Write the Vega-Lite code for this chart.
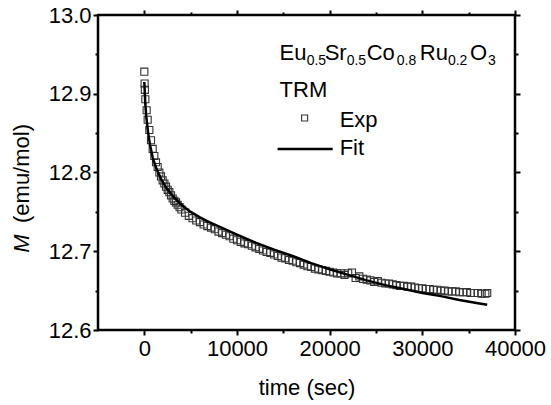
{
  "$schema": "https://vega.github.io/schema/vega-lite/v6.json",
  "width": 417,
  "height": 315,
  "autosize": "none",
  "padding": {"left": 98, "top": 15, "right": 36, "bottom": 75},
  "background": "white",
  "config": {
    "font": "Liberation Sans",
    "view": {"stroke": "black", "strokeWidth": 2.5},
    "axis": {
      "domain": false,
      "grid": false,
      "labelFlush": false,
      "labelOverlap": false,
      "labelFont": "Liberation Sans",
      "labelFontSize": 22,
      "labelColor": "black",
      "titleFont": "Liberation Sans",
      "titleFontSize": 22,
      "titleFontWeight": "normal",
      "titleColor": "black"
    }
  },
  "datasets": {
    "exp": [
      {"t": 0, "m": 12.928}, {"t": 30, "m": 12.913}, {"t": 60, "m": 12.905}, {"t": 110, "m": 12.893},
      {"t": 250, "m": 12.879}, {"t": 360, "m": 12.867}, {"t": 540, "m": 12.854}, {"t": 720, "m": 12.841},
      {"t": 900, "m": 12.830}, {"t": 1080, "m": 12.821}, {"t": 1260, "m": 12.813}, {"t": 1440, "m": 12.807},
      {"t": 1620, "m": 12.800}, {"t": 1800, "m": 12.795}, {"t": 1980, "m": 12.790}, {"t": 2160, "m": 12.786},
      {"t": 2340, "m": 12.782}, {"t": 2520, "m": 12.778}, {"t": 2700, "m": 12.775}, {"t": 2880, "m": 12.771},
      {"t": 3060, "m": 12.767}, {"t": 3240, "m": 12.764}, {"t": 3420, "m": 12.762}, {"t": 3600, "m": 12.759},
      {"t": 3800, "m": 12.756}, {"t": 4000, "m": 12.753}, {"t": 4400, "m": 12.749}, {"t": 4800, "m": 12.745},
      {"t": 5200, "m": 12.742}, {"t": 5600, "m": 12.739}, {"t": 6000, "m": 12.737}, {"t": 6400, "m": 12.734},
      {"t": 6800, "m": 12.732}, {"t": 7200, "m": 12.730}, {"t": 7600, "m": 12.728}, {"t": 8000, "m": 12.725},
      {"t": 8400, "m": 12.723}, {"t": 8800, "m": 12.721}, {"t": 9200, "m": 12.719}, {"t": 9600, "m": 12.716},
      {"t": 10000, "m": 12.714}, {"t": 10400, "m": 12.712}, {"t": 10800, "m": 12.710}, {"t": 11200, "m": 12.709},
      {"t": 11600, "m": 12.707}, {"t": 12000, "m": 12.705}, {"t": 12400, "m": 12.703}, {"t": 12800, "m": 12.701},
      {"t": 13200, "m": 12.699}, {"t": 13600, "m": 12.698}, {"t": 14000, "m": 12.696}, {"t": 14400, "m": 12.694},
      {"t": 14800, "m": 12.692}, {"t": 15200, "m": 12.691}, {"t": 15600, "m": 12.689}, {"t": 16000, "m": 12.688},
      {"t": 16400, "m": 12.686}, {"t": 16800, "m": 12.685}, {"t": 17200, "m": 12.683}, {"t": 17600, "m": 12.681},
      {"t": 18000, "m": 12.680}, {"t": 18400, "m": 12.678}, {"t": 18800, "m": 12.677}, {"t": 19200, "m": 12.676},
      {"t": 19600, "m": 12.675}, {"t": 20000, "m": 12.674}, {"t": 20400, "m": 12.673}, {"t": 20800, "m": 12.672},
      {"t": 21200, "m": 12.672}, {"t": 21600, "m": 12.670}, {"t": 22000, "m": 12.672}, {"t": 22400, "m": 12.673},
      {"t": 22800, "m": 12.666}, {"t": 23200, "m": 12.668}, {"t": 23600, "m": 12.665}, {"t": 24000, "m": 12.664},
      {"t": 24400, "m": 12.663}, {"t": 24800, "m": 12.661}, {"t": 25200, "m": 12.662}, {"t": 25600, "m": 12.660},
      {"t": 26000, "m": 12.659}, {"t": 26400, "m": 12.659}, {"t": 26800, "m": 12.658}, {"t": 27200, "m": 12.657},
      {"t": 27600, "m": 12.656}, {"t": 28000, "m": 12.656}, {"t": 28400, "m": 12.655}, {"t": 28800, "m": 12.655},
      {"t": 29200, "m": 12.654}, {"t": 29600, "m": 12.653}, {"t": 30000, "m": 12.653}, {"t": 30400, "m": 12.652},
      {"t": 30800, "m": 12.652}, {"t": 31200, "m": 12.651}, {"t": 31600, "m": 12.651}, {"t": 32000, "m": 12.650},
      {"t": 32400, "m": 12.650}, {"t": 32800, "m": 12.649}, {"t": 33200, "m": 12.649}, {"t": 33600, "m": 12.649},
      {"t": 34000, "m": 12.648}, {"t": 34400, "m": 12.648}, {"t": 34800, "m": 12.648}, {"t": 35200, "m": 12.647},
      {"t": 35600, "m": 12.647}, {"t": 36000, "m": 12.647}, {"t": 36400, "m": 12.646}, {"t": 36800, "m": 12.646},
      {"t": 37000, "m": 12.647}
    ],
    "fit": [
      {"t": 0, "m": 12.915}, {"t": 100, "m": 12.888}, {"t": 200, "m": 12.872}, {"t": 400, "m": 12.851},
      {"t": 600, "m": 12.836}, {"t": 900, "m": 12.819}, {"t": 1300, "m": 12.805}, {"t": 1800, "m": 12.792},
      {"t": 2400, "m": 12.780}, {"t": 3000, "m": 12.771}, {"t": 4000, "m": 12.759}, {"t": 5000, "m": 12.750},
      {"t": 6000, "m": 12.743}, {"t": 7000, "m": 12.737}, {"t": 8500, "m": 12.729}, {"t": 10000, "m": 12.721},
      {"t": 12000, "m": 12.711}, {"t": 14000, "m": 12.702}, {"t": 16000, "m": 12.694}, {"t": 18000, "m": 12.685},
      {"t": 20000, "m": 12.677}, {"t": 22000, "m": 12.670}, {"t": 24000, "m": 12.663}, {"t": 26000, "m": 12.657},
      {"t": 28000, "m": 12.652}, {"t": 30000, "m": 12.647}, {"t": 32000, "m": 12.643}, {"t": 34000, "m": 12.638},
      {"t": 36000, "m": 12.634}, {"t": 37000, "m": 12.632}
    ],
    "bigText": [
      {"label": "Eu", "t": 14595, "m": 12.9429},
      {"label": "Sr", "t": 19459, "m": 12.9429},
      {"label": "Co", "t": 24000, "m": 12.9429},
      {"label": "Ru", "t": 29730, "m": 12.9429},
      {"label": "O", "t": 35135, "m": 12.9429},
      {"label": "TRM", "t": 14595, "m": 12.8959},
      {"label": "Exp", "t": 21081, "m": 12.8582},
      {"label": "Fit", "t": 21081, "m": 12.8222}
    ],
    "subText": [
      {"label": "0.5", "t": 17514, "m": 12.9365},
      {"label": "0.5", "t": 21838, "m": 12.9365},
      {"label": "0.8", "t": 27243, "m": 12.9365},
      {"label": "0.2", "t": 32757, "m": 12.9365},
      {"label": "3", "t": 37081, "m": 12.9365}
    ]
  },
  "layer": [
    {
      "data": {"name": "exp"},
      "mark": {"type": "point", "shape": "square", "filled": false, "stroke": "#333333", "strokeWidth": 1.1, "size": 50, "opacity": 1},
      "encoding": {
        "x": {
          "field": "t", "type": "quantitative",
          "scale": {"domain": [-5000, 40000], "nice": false, "zero": false},
          "axis": {"orient": "bottom", "values": [0, 10000, 20000, 30000, 40000], "format": "d", "ticks": false, "labelPadding": 25, "labelBaseline": "alphabetic", "title": "time (sec)", "titleBaseline": "alphabetic", "titleY": 64}
        },
        "y": {
          "field": "m", "type": "quantitative",
          "scale": {"domain": [12.6, 13.0], "nice": false, "zero": false},
          "axis": {"orient": "left", "values": [12.6, 12.7, 12.8, 12.9, 13.0], "format": ".1f", "ticks": false, "labelPadding": 7, "title": "(emu/mol)", "titleX": -70, "titleY": 158, "titleAlign": "center", "titleBaseline": "alphabetic", "titleAngle": 270}
        }
      }
    },
    {
      "data": {"name": "fit"},
      "mark": {"type": "line", "color": "black", "strokeWidth": 2.5},
      "encoding": {
        "x": {"field": "t", "type": "quantitative", "axis": {"orient": "top", "values": [0, 10000, 20000, 30000, 40000], "labels": false, "ticks": true, "tickColor": "black", "tickWidth": 2, "tickSize": 5, "title": null}},
        "y": {"field": "m", "type": "quantitative", "axis": {"orient": "right", "values": [12.6, 12.7, 12.8, 12.9, 13.0], "labels": false, "ticks": true, "tickColor": "black", "tickWidth": 2, "tickSize": 5, "title": null}}
      }
    },
    {
      "data": {"values": [{}]},
      "mark": {"type": "point", "shape": "square", "filled": false, "stroke": "#333333", "strokeWidth": 1.1, "size": 36, "opacity": 1},
      "encoding": {
        "x": {"datum": 17297, "type": "quantitative", "axis": {"orient": "bottom", "values": [5000, 15000, 25000, 35000], "labels": false, "ticks": true, "tickColor": "black", "tickWidth": 2, "tickSize": 3, "title": null}},
        "y": {"datum": 12.8692, "type": "quantitative", "axis": {"orient": "left", "values": [12.65, 12.75, 12.85, 12.95], "labels": false, "ticks": true, "tickColor": "black", "tickWidth": 2, "tickSize": 3, "title": null}}
      }
    },
    {
      "data": {"values": [{}]},
      "mark": {"type": "rule", "color": "black", "strokeWidth": 2.5},
      "encoding": {
        "x": {"datum": 14378, "type": "quantitative", "axis": {"orient": "top", "values": [5000, 15000, 25000, 35000], "labels": false, "ticks": true, "tickColor": "black", "tickWidth": 2, "tickSize": 3, "title": null}},
        "x2": {"datum": 20324},
        "y": {"datum": 12.8298, "type": "quantitative", "axis": {"orient": "right", "values": [12.65, 12.75, 12.85, 12.95], "labels": false, "ticks": true, "tickColor": "black", "tickWidth": 2, "tickSize": 3, "title": null}}
      }
    },
    {
      "data": {"name": "bigText"},
      "mark": {"type": "text", "align": "left", "baseline": "alphabetic", "fontSize": 22, "font": "Liberation Sans", "color": "black"},
      "encoding": {
        "x": {"field": "t", "type": "quantitative", "axis": {"orient": "bottom", "values": [0, 10000, 20000, 30000, 40000], "labels": false, "ticks": true, "tickColor": "black", "tickWidth": 2, "tickSize": 5, "title": null}},
        "y": {"field": "m", "type": "quantitative", "axis": {"orient": "left", "values": [12.6, 12.7, 12.8, 12.9, 13.0], "labels": false, "ticks": true, "tickColor": "black", "tickWidth": 2, "tickSize": 5, "title": null}},
        "text": {"field": "label"}
      }
    },
    {
      "data": {"name": "subText"},
      "mark": {"type": "text", "align": "left", "baseline": "alphabetic", "fontSize": 14, "font": "Liberation Sans", "color": "black"},
      "encoding": {
        "x": {"field": "t", "type": "quantitative", "axis": null},
        "y": {"field": "m", "type": "quantitative", "axis": {"orient": "left", "labels": false, "ticks": false, "title": "M", "titleFontStyle": "italic", "titleX": -70, "titleY": 228, "titleAlign": "center", "titleBaseline": "alphabetic", "titleAngle": 270}},
        "text": {"field": "label"}
      }
    }
  ],
  "resolve": {"axis": {"x": "independent", "y": "independent"}}
}
